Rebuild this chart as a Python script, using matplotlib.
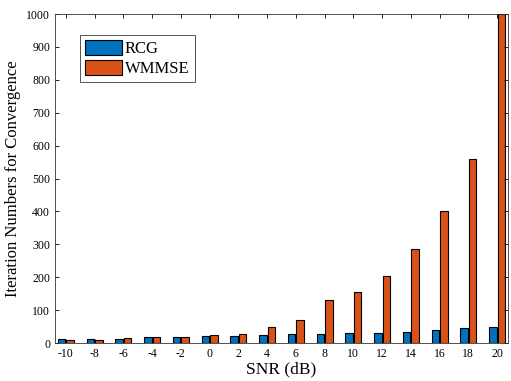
import numpy as np
import matplotlib
matplotlib.use("Agg")
from matplotlib import pyplot as plt

plt.rcParams['font.family'] = ['Liberation Serif', 'DejaVu Serif']

# data
snr = [-10, -8, -6, -4, -2, 0, 2, 4, 6, 8, 10, 12, 14, 16, 18, 20]
rcg = [13, 13, 13, 17, 18, 21, 22, 25, 26, 28, 29, 31, 33, 39, 47, 50]
wmmse = [8, 10, 15, 18, 18, 24, 26, 48, 71, 130, 156, 204, 285, 400, 560, 1000]

x = np.arange(len(snr))
w = 0.26
off = 0.15

fig = plt.figure(figsize=(5.11, 3.81), dpi=100)
ax = fig.add_axes([55/511, 1-343/381, 453/511, 329/381])

ax.bar(x - off, rcg, w, color='#0072BD', edgecolor='black', linewidth=0.8, label='RCG')
ax.bar(x + off, wmmse, w, color='#D95319', edgecolor='black', linewidth=0.8, label='WMMSE')

ax.set_xlim(-0.38, len(snr) - 1 + 0.38)
ax.set_ylim(0, 1000)
ax.set_xticks(x)
ax.set_xticklabels([str(s) for s in snr])
ax.set_yticks(np.arange(0, 1001, 100))
ax.tick_params(direction='in', top=True, right=True, labelsize=8.5, length=3, width=0.6)
for s in ax.spines.values():
    s.set_linewidth(0.6)
    s.set_color('#333333')

ax.set_xlabel('SNR (dB)', fontsize=12.5, labelpad=1)
ax.set_ylabel('Iteration Numbers for Convergence', fontsize=12, labelpad=4)

leg = ax.legend(loc='upper left', bbox_to_anchor=(0.055, 0.937), fontsize=12,
                fancybox=False, edgecolor='#555555', framealpha=1,
                handlelength=2.2, handleheight=1.0, handletextpad=0.2,
                borderpad=0.3, labelspacing=0.2, borderaxespad=0)
leg.get_frame().set_linewidth(0.7)

fig.savefig('out.png', dpi=100)
